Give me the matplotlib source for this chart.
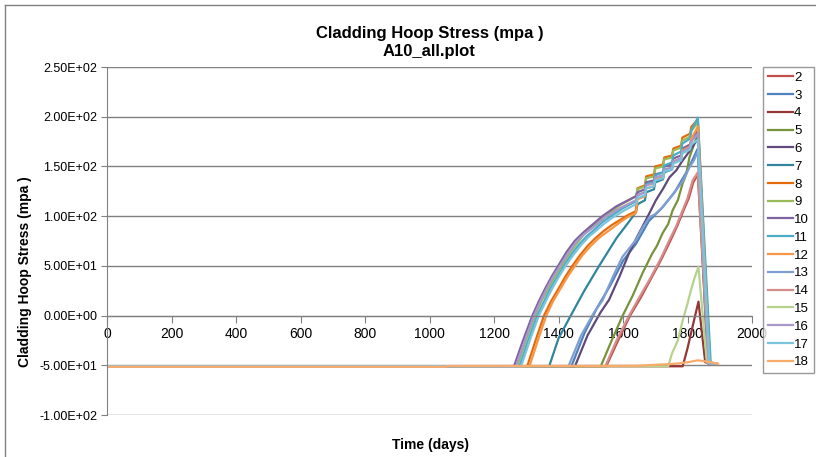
import matplotlib
matplotlib.use('Agg')
import matplotlib.pyplot as plt
from matplotlib.lines import Line2D

plt.rcParams['font.family'] = ['Liberation Sans', 'DejaVu Sans']

# hoop stress histories per axial node (days, MPa)
days_2 = [0, 1548, 1585, 1622, 1655, 1685, 1718, 1748, 1768, 1788, 1804, 1818, 1832, 1864, 1890]
hoop_2 = [-51, -51, -25, 0, 18, 36, 56, 76, 90, 106, 118, 134, 142, -48, -48]

days_3 = [0, 1440, 1480, 1520, 1560, 1600, 1640, 1680, 1720, 1760, 1800, 1832, 1862, 1890]
hoop_3 = [-51, -51, -18, 8, 30, 55, 72, 95, 108, 124, 146, 168, -48, -48]

days_4 = [0, 1785, 1800, 1815, 1834, 1855, 1890]
hoop_4 = [-51, -51, -33, -12, 14, -47, -48]

days_5 = [0, 1531, 1565, 1599, 1630, 1661, 1690, 1705, 1723, 1740, 1754, 1770, 1785, 1796, 1806, 1820, 1832, 1868, 1890]
hoop_5 = [-51, -51, -25, 0, 20, 43, 62, 70, 83, 92, 106, 116, 133, 142, 159, 172, 182, -48, -48]

days_6 = [0, 1451, 1490, 1530, 1557, 1590, 1619, 1645, 1671, 1702, 1725, 1744, 1765, 1785, 1808, 1832, 1865, 1890]
hoop_6 = [-51, -51, -20, 3, 16, 40, 63, 80, 96, 116, 128, 139, 146, 156, 166, 178, -48, -48]

days_7 = [0, 1371, 1400, 1438, 1480, 1526, 1580, 1620, 1640,
          1645, 1668, 1672, 1696, 1700, 1724, 1728, 1752, 1756, 1780, 1784, 1808, 1812, 1832, 1870, 1890]
hoop_7 = [-51, -51, -23, 0, 25, 50, 78, 95, 104,
          112, 116, 124, 127, 134, 137, 144, 147, 154, 158, 165, 170, 176, 185, -48, -48]

days_8 = [0, 1303, 1330, 1355, 1378, 1400, 1421, 1443, 1465, 1490, 1515, 1540, 1565, 1590, 1615, 1640,
          1645, 1668, 1672, 1696, 1700, 1724, 1728, 1752, 1756, 1780, 1784, 1808, 1812, 1832, 1870, 1890]
hoop_8 = [-51, -51, -24, 0, 15, 27, 39, 50, 60, 70, 78, 85, 91, 96, 101, 105,
          128, 131, 140, 142, 150, 152, 159, 161, 168, 171, 179, 183, 190, 197, -48, -48]

days_9 = [0, 1272, 1300, 1327, 1348, 1370, 1390, 1410, 1435, 1460, 1480, 1500, 1525, 1547, 1590, 1640,
          1645, 1668, 1672, 1696, 1700, 1724, 1728, 1752, 1756, 1780, 1784, 1808, 1812, 1832, 1868, 1890]
hoop_9 = [-51, -51, -24, 0, 15, 28, 40, 50, 63, 74, 82, 88, 95, 100, 111, 120,
          127, 130, 138, 140, 148, 150, 157, 159, 166, 169, 176, 180, 186, 194, -48, -48]

days_10 = [0, 1262, 1290, 1319, 1340, 1360, 1380, 1399, 1425, 1450, 1475, 1500, 1536, 1580, 1640,
           1645, 1668, 1672, 1696, 1700, 1724, 1728, 1752, 1756, 1780, 1784, 1808, 1812, 1832, 1866, 1890]
hoop_10 = [-51, -51, -25, 0, 15, 28, 40, 50, 64, 75, 83, 90, 100, 110, 120,
           124, 127, 134, 136, 142, 144, 150, 152, 158, 161, 168, 172, 178, 186, -48, -48]

days_11 = [0, 1279, 1305, 1334, 1355, 1375, 1396, 1417, 1441, 1465, 1488, 1510, 1536, 1562, 1600, 1640,
           1645, 1668, 1672, 1696, 1700, 1724, 1728, 1752, 1756, 1780, 1784, 1808, 1812, 1832, 1872, 1890]
hoop_11 = [-51, -51, -26, 0, 14, 27, 39, 50, 62, 72, 80, 86, 94, 100, 108, 115,
           121, 124, 132, 134, 141, 144, 151, 154, 161, 165, 173, 178, 186, 199, -48, -48]

days_12 = [0, 1310, 1336, 1362, 1384, 1406, 1428, 1451, 1475, 1500, 1525, 1550, 1575, 1600, 1620, 1640,
           1645, 1668, 1672, 1696, 1700, 1724, 1728, 1752, 1756, 1780, 1784, 1808, 1812, 1832, 1868, 1890]
hoop_12 = [-51, -51, -25, 0, 15, 27, 39, 50, 61, 70, 78, 84, 90, 96, 100, 103,
           117, 120, 128, 130, 137, 139, 146, 148, 155, 158, 166, 170, 178, 190, -48, -48]

days_13 = [0, 1431, 1470, 1510, 1536, 1570, 1598, 1640, 1660, 1682, 1700, 1723, 1745, 1764, 1785, 1806, 1820, 1832, 1866, 1890]
hoop_13 = [-51, -51, -20, 3, 15, 40, 59, 76, 88, 99, 102, 109, 118, 126, 135, 149, 156, 165, -48, -48]

days_14 = [0, 1545, 1580, 1619, 1650, 1682, 1715, 1744, 1765, 1785, 1800, 1816, 1832, 1865, 1890]
hoop_14 = [-51, -51, -25, 0, 18, 36, 56, 76, 90, 106, 118, 136, 144, -48, -48]

days_15 = [0, 1740, 1752, 1770, 1785, 1800, 1811, 1822, 1834, 1860, 1890]
hoop_15 = [-51, -51, -38, -25, -5, 12, 26, 38, 49, -47, -48]

days_16 = [0, 1268, 1296, 1324, 1345, 1365, 1385, 1405, 1430, 1455, 1480, 1505, 1545, 1590, 1640,
           1645, 1668, 1672, 1696, 1700, 1724, 1728, 1752, 1756, 1780, 1784, 1808, 1812, 1832, 1866, 1890]
hoop_16 = [-51, -51, -25, 0, 15, 28, 40, 50, 63, 74, 82, 88, 99, 108, 116,
           121, 124, 131, 133, 139, 141, 147, 149, 155, 158, 165, 169, 175, 183, -48, -48]

days_17 = [0, 1284, 1310, 1339, 1360, 1380, 1401, 1422, 1446, 1470, 1493, 1515, 1540, 1565, 1605, 1640,
           1645, 1668, 1672, 1696, 1700, 1724, 1728, 1752, 1756, 1780, 1784, 1808, 1812, 1832, 1868, 1890]
hoop_17 = [-51, -51, -26, 0, 14, 27, 39, 50, 61, 71, 79, 85, 92, 98, 106, 112,
           118, 121, 128, 130, 136, 138, 145, 147, 153, 156, 163, 167, 172, 177, -48, -48]

days_18 = [0, 1050, 1056, 1640, 1700, 1760, 1800, 1832, 1865, 1895]
hoop_18 = [-51.5, -51.5, -50.8, -50.5, -49.5, -48.5, -47, -45, -46.5, -48.5]

labels = ['2', '3', '4', '5', '6', '7', '8', '9', '10', '11', '12', '13', '14', '15', '16', '17', '18']
all_days = [days_2, days_3, days_4, days_5, days_6, days_7, days_8, days_9, days_10,
            days_11, days_12, days_13, days_14, days_15, days_16, days_17, days_18]
all_hoop = [hoop_2, hoop_3, hoop_4, hoop_5, hoop_6, hoop_7, hoop_8, hoop_9, hoop_10,
            hoop_11, hoop_12, hoop_13, hoop_14, hoop_15, hoop_16, hoop_17, hoop_18]
colors = ['#C0504D', '#4F81BD', '#953735', '#77933C', '#604A7B', '#31859C', '#E46C0A',
          '#9BBB59', '#8064A2', '#4BACC6', '#F79646', '#7F9FD3', '#D58E8C', '#B6D28C',
          '#A899C8', '#7CC4DC', '#F9AB6B']

fig = plt.figure(figsize=(8.16, 4.57), dpi=100)
ax = fig.add_axes([107 / 816, 1 - 415 / 457, 645 / 816, 348 / 457])

for lab, d, h, c in zip(labels, all_days, all_hoop, colors):
    ax.plot(d, h, color=c, lw=1.6, label=lab)

ax.set_xlim(0, 2000)
ax.set_ylim(-100, 250)
ax.set_xticks(range(0, 2001, 200))
ax.set_yticks(range(-100, 251, 50))
ax.set_yticklabels(['-1.00E+02', '-5.00E+01', '0.00E+00', '5.00E+01', '1.00E+02',
                    '1.50E+02', '2.00E+02', '2.50E+02'])
ax.yaxis.grid(True, color='#808080', lw=1.0)
ax.set_axisbelow(True)

for s in ['top', 'right']:
    ax.spines[s].set_visible(False)
ax.spines['bottom'].set_position(('data', 0))
ax.spines['bottom'].set_color('#808080')
ax.spines['left'].set_color('#808080')
ax.tick_params(axis='x', direction='out', length=5, color='#808080', labelsize=10, pad=3)
ax.tick_params(axis='y', direction='out', length=4, color='#808080', labelsize=9, pad=3)

ax.set_title('Cladding Hoop Stress (mpa )\nA10_all.plot', fontsize=12, fontweight='bold',
             pad=8, linespacing=1.2)
fig.text(25 / 816, 1 - 272 / 457, 'Cladding Hoop Stress (mpa )', rotation=90,
         ha='center', va='center', fontsize=10, fontweight='bold')
fig.text(430 / 816, 1 - 445 / 457, 'Time (days)', ha='center', va='center',
         fontsize=10, fontweight='bold')

leg = ax.legend(loc='upper left', bbox_to_anchor=(763 / 816, 1 - 67 / 457),
                bbox_transform=fig.transFigure, fontsize=9.5, frameon=True, fancybox=False,
                handlelength=1.9, handletextpad=0.1, labelspacing=0.42, borderpad=0.35,
                borderaxespad=0)
leg.get_frame().set_edgecolor('#808080')
leg.get_frame().set_linewidth(1.0)

# outer chart frame
fig.add_artist(Line2D([5 / 816, 5 / 816], [0, 1 - 5 / 457], color='#808080', lw=1.0))
fig.add_artist(Line2D([5 / 816, 1], [1 - 5 / 457, 1 - 5 / 457], color='#808080', lw=1.0))

fig.savefig('out.png', dpi=100)
